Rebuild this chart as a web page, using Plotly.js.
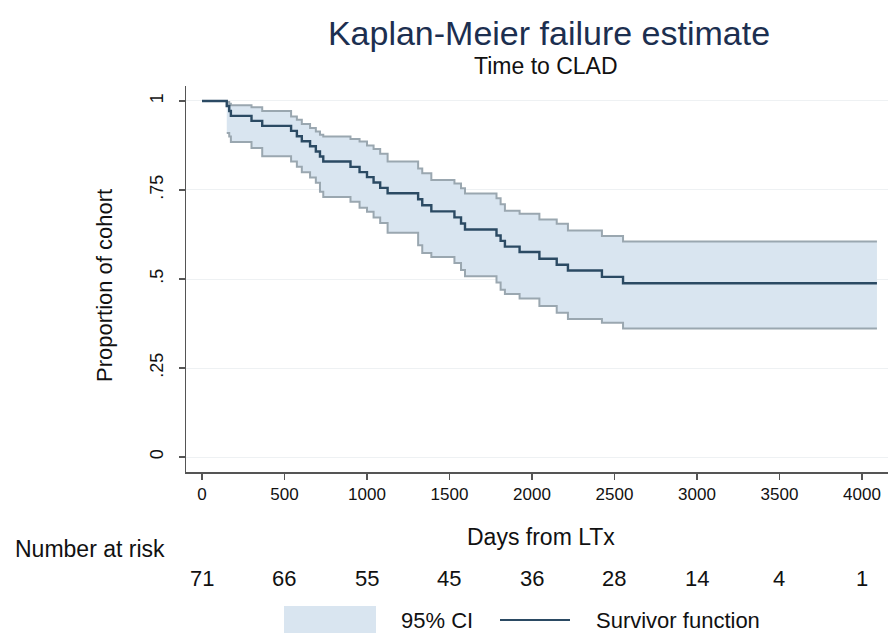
<!DOCTYPE html>
<html>
<head>
<meta charset="utf-8">
<script src="https://cdn.plot.ly/plotly-3.0.1.min.js"></script>
<style>
  html, body { margin: 0; padding: 0; background: #ffffff; }
  #chart { width: 891px; height: 636px; }
</style>
</head>
<body>
<div id="chart"></div>
<script>
// Kaplan-Meier survivor function (step times in days, proportion of cohort)
const survTime = [0, 150, 165, 175, 300, 365, 540, 575, 605, 655, 690, 715, 735, 900, 955, 1000, 1040, 1080, 1125, 1310, 1335, 1390, 1530, 1570, 1594, 1785, 1810, 1836, 1925, 2045, 2150, 2218, 2424, 2552, 4091];
const survProb = [1, 0.986, 0.972, 0.958, 0.944, 0.930, 0.916, 0.901, 0.887, 0.873, 0.858, 0.844, 0.830, 0.815, 0.800, 0.786, 0.771, 0.756, 0.741, 0.724, 0.707, 0.690, 0.673, 0.656, 0.639, 0.622, 0.607, 0.591, 0.576, 0.557, 0.540, 0.524, 0.506, 0.488, 0.488];

// 95% confidence band, defined from the first failure onwards
const ciTime  = [150, 165, 175, 300, 365, 540, 575, 605, 655, 690, 715, 735, 900, 955, 1000, 1040, 1080, 1125, 1310, 1335, 1390, 1530, 1570, 1594, 1785, 1810, 1836, 1925, 2045, 2150, 2218, 2424, 2552, 4091];
const ciUpper = [0.997, 0.992, 0.988, 0.982, 0.972, 0.956, 0.947, 0.935, 0.924, 0.914, 0.905, 0.900, 0.893, 0.886, 0.875, 0.865, 0.852, 0.830, 0.810, 0.797, 0.778, 0.768, 0.755, 0.740, 0.727, 0.710, 0.692, 0.683, 0.667, 0.655, 0.636, 0.621, 0.605, 0.605];
const ciLower = [0.910, 0.900, 0.885, 0.868, 0.845, 0.830, 0.815, 0.800, 0.785, 0.770, 0.745, 0.730, 0.717, 0.700, 0.689, 0.673, 0.657, 0.630, 0.595, 0.573, 0.562, 0.545, 0.525, 0.508, 0.490, 0.470, 0.458, 0.445, 0.424, 0.405, 0.388, 0.377, 0.361, 0.361];

// Number at risk table
const riskTime  = [0, 500, 1000, 1500, 2000, 2500, 3000, 3500, 4000];
const riskCount = [71, 66, 55, 45, 36, 28, 14, 4, 1];

// Axis ticks
const xTicks = [0, 500, 1000, 1500, 2000, 2500, 3000, 3500, 4000];
const yTicks = [0, 0.25, 0.5, 0.75, 1];
const yTickText = ['0', '.25', '.5', '.75', '1'];

const FONT = 'Liberation Sans, Arial, Helvetica, sans-serif';
const INK = '#111111';
const BAND_FILL = '#d9e5f0';
const BAND_EDGE = '#9aa7b0';
const SURV_LINE = '#2b4a63';

const traces = [
  { x: ciTime, y: ciLower, type: 'scatter', mode: 'lines',
    line: { shape: 'hv', width: 0 }, hoverinfo: 'skip', showlegend: false },
  { x: ciTime, y: ciUpper, type: 'scatter', mode: 'lines', fill: 'tonexty',
    fillcolor: BAND_FILL, line: { shape: 'hv', width: 0 }, hoverinfo: 'skip', showlegend: false },
  { x: ciTime, y: ciLower, type: 'scatter', mode: 'lines',
    line: { shape: 'hv', width: 2, color: BAND_EDGE }, showlegend: false },
  { x: ciTime, y: ciUpper, type: 'scatter', mode: 'lines',
    line: { shape: 'hv', width: 2, color: BAND_EDGE }, showlegend: false },
  { x: survTime, y: survProb, type: 'scatter', mode: 'lines',
    line: { shape: 'hv', width: 2.4, color: SURV_LINE }, showlegend: false }
];

// plot-area edges in pixels, used to place text around the axes
const L = 186, R = 888, T = 86, B = 472;
const px = v => (v - L) / (R - L);
const py = v => (B - v) / (B - T);

function label(text, x, y, size, extra) {
  return Object.assign({
    text: text, xref: 'paper', yref: 'paper', x: px(x), y: py(y),
    xanchor: 'center', yanchor: 'middle', showarrow: false,
    font: { family: FONT, size: size, color: INK }
  }, extra || {});
}

const annotations = [
  label('Time to CLAD', 546, 66, 23),
  label('Proportion of cohort', 104, 286, 22, { textangle: -90 }),
  label('Days from LTx', 541, 537, 23),
  label('Number at risk', 13, 549, 23, { xanchor: 'left' }),
  label('95% CI', 399, 620, 22, { xanchor: 'left' }),
  label('Survivor function', 594, 620, 22, { xanchor: 'left' })
];

riskTime.forEach((t, i) => {
  annotations.push({
    text: String(riskCount[i]), xref: 'x', yref: 'paper', x: t, y: py(578),
    xanchor: 'center', yanchor: 'middle', showarrow: false,
    font: { family: FONT, size: 22, color: INK }
  });
});

const shapes = [
  { type: 'rect', xref: 'paper', yref: 'paper', x0: px(284), x1: px(376), y0: py(606), y1: py(633),
    fillcolor: BAND_FILL, line: { width: 0 } },
  { type: 'line', xref: 'paper', yref: 'paper', x0: px(500), x1: px(570), y0: py(620), y1: py(620),
    line: { color: SURV_LINE, width: 2 } }
];

const layout = {
  width: 891, height: 636,
  margin: { l: L, r: 891 - R, t: T, b: 636 - B, pad: 0 },
  paper_bgcolor: '#ffffff', plot_bgcolor: '#ffffff',
  font: { family: FONT, size: 16, color: INK },
  showlegend: false,
  title: { text: 'Kaplan-Meier failure estimate', x: 549 / 891, xanchor: 'center',
    y: 1 - 33 / 636, yanchor: 'middle', yref: 'container',
    font: { family: FONT, size: 34, color: '#1c2f50' } },
  xaxis: {
    range: [-97, 4158], tickvals: xTicks, ticktext: xTicks.map(String),
    showgrid: false, zeroline: false, showline: true, linecolor: '#555555', linewidth: 1.5,
    ticks: 'outside', ticklen: 6, tickcolor: '#555555', tickwidth: 1.5,
    tickfont: { family: FONT, size: 17, color: INK }
  },
  yaxis: {
    range: [-0.042, 1.042], tickvals: yTicks, ticktext: yTickText, tickangle: -90,
    showgrid: true, gridcolor: '#eef1f3', gridwidth: 1, zeroline: false,
    showline: true, linecolor: '#555555', linewidth: 1.5,
    ticks: 'outside', ticklen: 6, tickcolor: '#555555', tickwidth: 1.5,
    ticklabelstandoff: 8,
    tickfont: { family: FONT, size: 18, color: INK }
  },
  annotations: annotations,
  shapes: shapes
};

Plotly.newPlot('chart', traces, layout, { displayModeBar: false, staticPlot: true });
</script>
</body>
</html>
